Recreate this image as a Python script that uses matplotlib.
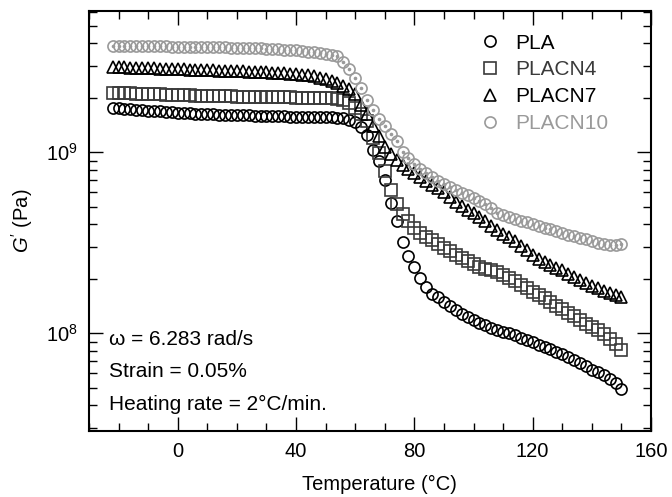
import numpy as np
import matplotlib
matplotlib.use("Agg")
import matplotlib.pyplot as plt
from matplotlib.ticker import LogLocator, MultipleLocator, NullFormatter

plt.rcParams["font.family"] = ["Liberation Sans", "DejaVu Sans"]
plt.rcParams["mathtext.fontset"] = "custom"
plt.rcParams["mathtext.rm"] = "Liberation Sans"
plt.rcParams["mathtext.it"] = "Liberation Sans:italic"

# Temperature sweep (°C), one reading every 2 °C
temperature = list(range(-22, 151, 2))

# Storage modulus G' in GPa
g_pla = [
    1.758, 1.750, 1.738, 1.730, 1.722, 1.714, 1.702, 1.694, 1.687, 1.679,
    1.667, 1.660, 1.652, 1.644, 1.637, 1.629, 1.626, 1.622, 1.618, 1.614,
    1.611, 1.607, 1.603, 1.600, 1.596, 1.592, 1.589, 1.585, 1.581, 1.578,
    1.574, 1.574, 1.570, 1.570, 1.567, 1.567, 1.563, 1.560, 1.556, 1.545,
    1.514, 1.466, 1.380, 1.245, 1.035, 0.891, 0.703, 0.525, 0.419, 0.320,
    0.268, 0.232, 0.202, 0.181, 0.165, 0.158, 0.149, 0.141, 0.135, 0.128,
    0.123, 0.119, 0.114, 0.111, 0.107, 0.104, 0.102, 0.100, 0.0977, 0.0944,
    0.0914, 0.0891, 0.0865, 0.0839, 0.0815, 0.0789, 0.0766, 0.0741, 0.0716, 0.0685,
    0.0658, 0.0631, 0.0611, 0.0586, 0.0560, 0.0531, 0.0490,
]
g_placn4 = [
    2.127, 2.127, 2.120, 2.116, 2.110, 2.105, 2.100, 2.095, 2.089, 2.084,
    2.078, 2.073, 2.068, 2.062, 2.057, 2.052, 2.046, 2.044, 2.041, 2.038,
    2.036, 2.033, 2.030, 2.028, 2.025, 2.023, 2.020, 2.018, 2.015, 2.013,
    2.010, 2.008, 2.005, 2.003, 2.000, 1.998, 1.995, 1.987, 1.974, 1.957,
    1.873, 1.769, 1.638, 1.489, 1.200, 0.990, 0.790, 0.620, 0.520, 0.455,
    0.415, 0.382, 0.360, 0.342, 0.326, 0.311, 0.298, 0.285, 0.272, 0.261,
    0.251, 0.241, 0.234, 0.228, 0.224, 0.218, 0.210, 0.202, 0.195, 0.186,
    0.178, 0.170, 0.163, 0.156, 0.149, 0.142, 0.136, 0.130, 0.125, 0.118,
    0.113, 0.108, 0.104, 0.0991, 0.0930, 0.0873, 0.0809,
]
g_placn7 = [
    2.960, 2.952, 2.945, 2.938, 2.930, 2.923, 2.915, 2.908, 2.900, 2.893,
    2.886, 2.878, 2.871, 2.864, 2.856, 2.849, 2.842, 2.835, 2.827, 2.820,
    2.813, 2.806, 2.799, 2.792, 2.785, 2.777, 2.767, 2.756, 2.746, 2.735,
    2.721, 2.707, 2.687, 2.660, 2.626, 2.587, 2.541, 2.483, 2.415, 2.339,
    2.252, 2.100, 1.825, 1.628, 1.397, 1.231, 1.070, 0.979, 0.907, 0.851,
    0.809, 0.768, 0.730, 0.694, 0.664, 0.635, 0.604, 0.566, 0.534, 0.508,
    0.483, 0.462, 0.439, 0.417, 0.394, 0.372, 0.356, 0.340, 0.324, 0.305,
    0.289, 0.272, 0.259, 0.248, 0.238, 0.231, 0.224, 0.214, 0.205, 0.197,
    0.190, 0.183, 0.177, 0.171, 0.166, 0.162, 0.159,
]
g_placn10 = [
    3.891, 3.886, 3.881, 3.876, 3.871, 3.866, 3.861, 3.856, 3.851, 3.846,
    3.841, 3.837, 3.832, 3.827, 3.822, 3.817, 3.812, 3.807, 3.802, 3.797,
    3.793, 3.788, 3.778, 3.768, 3.759, 3.750, 3.736, 3.721, 3.707, 3.693,
    3.674, 3.656, 3.632, 3.605, 3.573, 3.537, 3.492, 3.435, 3.405, 3.154,
    2.886, 2.574, 2.266, 1.950, 1.720, 1.520, 1.400, 1.270, 1.150, 1.010,
    0.935, 0.866, 0.810, 0.765, 0.728, 0.697, 0.668, 0.640, 0.617, 0.598,
    0.582, 0.560, 0.540, 0.518, 0.490, 0.465, 0.450, 0.438, 0.427, 0.418,
    0.410, 0.402, 0.393, 0.384, 0.375, 0.366, 0.358, 0.351, 0.344, 0.337,
    0.330, 0.323, 0.316, 0.311, 0.308, 0.308, 0.311,
]

labels = ["PLA", "PLACN4", "PLACN7", "PLACN10"]
colors = ["black", "#3a3a3a", "black", "#9a9a9a"]
markers = ["o", "s", "^", "o"]

notes = ["ω = 6.283 rad/s", "Strain = 0.05%", "Heating rate = 2°C/min."]

fig = plt.figure(figsize=(6.72, 4.97), dpi=100)
ax = fig.add_axes([89 / 672, 66 / 497, 562 / 672, 420 / 497])

T = np.array(temperature)
series = [g_pla, g_placn4, g_placn7, g_placn10]
for vals, lab, col, mk in zip(series, labels, colors, markers):
    g = np.array(vals) * 1e9
    ax.plot(T, g, linestyle="none", marker=mk, markersize=8.0,
            markerfacecolor="none", markeredgecolor=col, markeredgewidth=1.2,
            label=lab)
# centre dots of the PLACN10 symbols
ax.plot(T, np.array(g_placn10) * 1e9, linestyle="none", marker="o",
        markersize=1.6, color=colors[3])

ax.set_yscale("log")
ax.set_xlim(-30, 160)
ax.set_ylim(2.886e7, 6.04e9)

ax.xaxis.set_major_locator(MultipleLocator(40))
ax.xaxis.set_minor_locator(MultipleLocator(10))
ax.yaxis.set_major_locator(LogLocator(base=10, numticks=10))
ax.yaxis.set_minor_locator(LogLocator(base=10, subs=np.arange(2, 10), numticks=20))
ax.yaxis.set_minor_formatter(NullFormatter())

ax.tick_params(which="both", direction="in", top=True, right=True,
               labelsize=14.5, width=1.0, pad=8)
ax.tick_params(which="major", length=10)
ax.tick_params(which="minor", length=6)
for sp in ax.spines.values():
    sp.set_linewidth(1.5)

ax.set_xlabel("Temperature (°C)", fontsize=14.5)
ax.xaxis.set_label_coords(0.516, -0.105)
ax.set_ylabel(r"$G'$ (Pa)", fontsize=14.5, labelpad=8)

for txt, yf in zip(notes, [0.217, 0.141, 0.064]):
    ax.text(0.036, yf, txt, transform=ax.transAxes, fontsize=15,
            va="center", ha="left")

leg = ax.legend(loc="upper left", bbox_to_anchor=(0.695, 0.946), frameon=False,
                fontsize=15, handlelength=1.0, handletextpad=0.7,
                labelspacing=0.37, borderpad=0, borderaxespad=0,
                labelcolor=colors)

fig.savefig("out.png", dpi=100)
